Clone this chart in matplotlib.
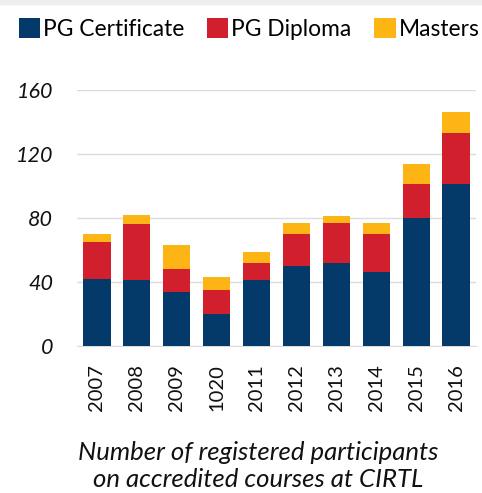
import matplotlib
matplotlib.use("Agg")
import matplotlib.pyplot as plt
from matplotlib.patches import Rectangle

years = ["2007", "2008", "2009", "1020", "2011", "2012", "2013", "2014", "2015", "2016"]
pg_certificate = [42, 41, 34, 20, 41, 50, 52, 46, 80, 101]
pg_diploma = [23, 35, 14, 15, 11, 20, 25, 24, 21, 32]
masters = [5, 6, 15, 8, 7, 7, 4, 7, 13, 13]
series_names = ["PG Certificate", "PG Diploma", "Masters"]
y_ticks = [0, 40, 80, 120, 160]
caption = "Number of registered participants\non accredited courses at CIRTL"

colors = ["#033a6a", "#d21f2e", "#fdb515"]
FONT = ["Lato", "DejaVu Sans"]

fig = plt.figure(figsize=(4.82, 4.93), dpi=100)
fig.patches.append(Rectangle((0, 1 - 4 / 493), 1, 4 / 493, transform=fig.transFigure,
                             color="#eeeeee", zorder=0))
ax = fig.add_axes([77 / 482, 1 - 346 / 493, (476 - 77) / 482, (346 - 90) / 493])

x = list(range(len(years)))
bottom2 = [a for a in pg_certificate]
bottom3 = [a + b for a, b in zip(pg_certificate, pg_diploma)]
b1 = ax.bar(x, pg_certificate, width=0.68, color=colors[0], zorder=3, label=series_names[0])
b2 = ax.bar(x, pg_diploma, width=0.68, bottom=bottom2, color=colors[1], zorder=3, label=series_names[1])
b3 = ax.bar(x, masters, width=0.68, bottom=bottom3, color=colors[2], zorder=3, label=series_names[2])

ax.set_xlim(-0.5, len(years) - 0.5)
ax.set_ylim(0, 160)
ax.set_yticks(y_ticks)
ax.set_yticklabels([str(v) for v in y_ticks], fontstyle="italic", fontsize=15.5, family=FONT)
ax.set_xticks(x)
ax.set_xticklabels(years, rotation=90, fontsize=14.5, family=FONT)
ax.tick_params(axis="both", length=0, colors="#111111")
ax.tick_params(axis="y", pad=17)
ax.tick_params(axis="x", pad=13)
ax.grid(axis="y", color="#dcdcdc", linewidth=1, zorder=0)
ax.set_axisbelow(True)
for s in ["top", "right", "left"]:
    ax.spines[s].set_visible(False)
ax.spines["bottom"].set_color("#dcdcdc")

leg = fig.legend(handles=[b1, b2, b3], labels=series_names, loc="center left",
                 bbox_to_anchor=(19 / 482, 1 - 29 / 493), ncol=3, frameon=False,
                 prop={"family": FONT, "size": 16.4}, handlelength=0.93, handleheight=0.93,
                 handletextpad=0.13, columnspacing=1.0, borderaxespad=0, borderpad=0)

fig.text(258 / 482, 1 - 466 / 493, caption, ha="center", va="center",
         fontsize=18.5, fontstyle="italic", family=FONT, linespacing=1.25, color="#111111")

fig.savefig("out.png", dpi=100, facecolor="white")
